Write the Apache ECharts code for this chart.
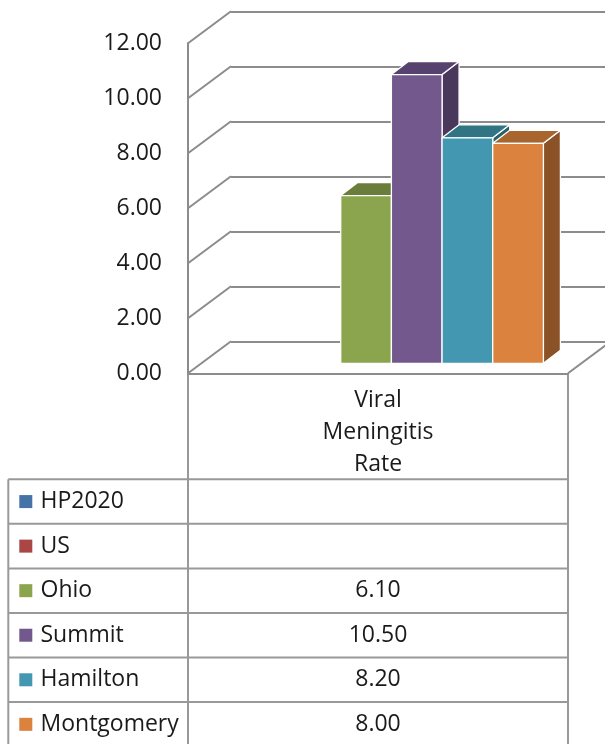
<!DOCTYPE html>
<html>
<head>
<meta charset="utf-8">
<script src="https://cdn.jsdelivr.net/npm/echarts@6/dist/echarts.min.js"></script>
<style>
  html, body { margin: 0; padding: 0; background: #fff; }
  #chart { width: 605px; height: 744px; }
</style>
</head>
<body>
<div id="chart"></div>
<script>
// ---- data ----
const categories = ['Viral Meningitis Rate'];
const seriesNames = ['HP2020', 'US', 'Ohio', 'Summit', 'Hamilton', 'Montgomery'];
const rates = [null, null, 6.10, 10.50, 8.20, 8.00];
const yTickLabels = ['0.00', '2.00', '4.00', '6.00', '8.00', '10.00', '12.00'];
const yTickValues = [0, 2, 4, 6, 8, 10, 12];

// ---- styling ----
const frontColors = ['#4572A7', '#AA4643', '#8AA54E', '#73588D', '#4397B0', '#DA823E'];
const topColors   = ['#355a88', '#873734', '#6B7D3A', '#57416E', '#317585', '#A8652D'];
const sideColors  = ['#2c4a70', '#6e2c2a', '#56672f', '#4A385C', '#285f6c', '#8A5226'];
const FONT = 'Open Sans';
const FONT_SIZE = 23;
const TEXT = '#1a1a1a';
const WALL = '#8c8c8c';
const TABLE = '#999999';

// perspective offsets
const WALL_DX = 43, WALL_DY = -32;   // depth of the floor / side wall
const BAR_DX = 17, BAR_DY = -13;     // depth of each column

// plot frame (front plane)
const FRONT = { left: 188, top: 43.3, width: 380, height: 330 };
const BAR_SHIFT = { dx: 13.4, dy: -10 };

const chart = echarts.init(document.getElementById('chart'), null, { renderer: 'canvas' });

// data table drawn under the plot
function buildTable() {
  const els = [];
  const xL = 8.3, xM = FRONT.left, xR = FRONT.left + FRONT.width;
  const yFloor = FRONT.top + FRONT.height;
  const yRow0 = 479.3, rowH = 44.55;
  const yEnd = yRow0 + rowH * seriesNames.length;
  const line = (x1, y1, x2, y2) => ({
    type: 'line', silent: true,
    shape: { x1, y1, x2, y2 },
    style: { stroke: TABLE, lineWidth: 2 }
  });
  els.push(line(xM, yFloor, xM, yEnd));
  els.push(line(xR, yFloor, xR, yEnd));
  els.push(line(xL, yRow0, xL, yEnd));
  for (let r = 0; r <= seriesNames.length; r++) {
    const y = yRow0 + r * rowH;
    els.push(line(xL, y, xR, y));
  }
  seriesNames.forEach((name, i) => {
    const cy = yRow0 + rowH * (i + 0.5);
    els.push({
      type: 'rect', silent: true,
      shape: { x: 19.3, y: cy - 6.5, width: 13, height: 13 },
      style: { fill: frontColors[i] }
    });
    els.push({
      type: 'text', silent: true,
      style: {
        text: name, x: 40.5, y: cy, verticalAlign: 'middle', align: 'left',
        font: FONT_SIZE + 'px "' + FONT + '"', fill: TEXT
      }
    });
    if (rates[i] != null) {
      els.push({
        type: 'text', silent: true,
        style: {
          text: rates[i].toFixed(2), x: (xM + xR) / 2, y: cy,
          verticalAlign: 'middle', align: 'center',
          font: FONT_SIZE + 'px "' + FONT + '"', fill: TEXT
        }
      });
    }
  });
  return els;
}

const option = {
  animation: false,
  backgroundColor: '#ffffff',
  grid: [
    // back wall
    { left: FRONT.left + WALL_DX, top: FRONT.top + WALL_DY, width: 500, height: FRONT.height },
    // front plane (axis labels, floor edge)
    { left: FRONT.left, top: FRONT.top, width: FRONT.width, height: FRONT.height },
    // plane of the columns
    { left: FRONT.left + BAR_SHIFT.dx, top: FRONT.top + BAR_SHIFT.dy, width: FRONT.width, height: FRONT.height }
  ],
  xAxis: [
    { gridIndex: 0, type: 'value', min: 0, max: 1, show: false },
    {
      gridIndex: 1, type: 'category', data: categories,
      axisLine: { show: true, lineStyle: { color: WALL, width: 2 } },
      axisTick: { show: false },
      axisLabel: {
        color: TEXT, fontFamily: FONT, fontSize: FONT_SIZE, lineHeight: 32, margin: 11,
        formatter: (v) => v.split(' ').join('\n')
      }
    },
    { gridIndex: 2, type: 'category', data: categories, show: false }
  ],
  yAxis: [
    {
      gridIndex: 0, type: 'value', min: 0, max: 12, interval: 2,
      axisLine: { show: false }, axisTick: { show: false }, axisLabel: { show: false },
      splitLine: { show: true, lineStyle: { color: WALL, width: 2 } }
    },
    {
      gridIndex: 1, type: 'value', min: 0, max: 12, interval: 2,
      axisLine: { show: true, lineStyle: { color: WALL, width: 2 } },
      axisTick: { show: false },
      splitLine: { show: false },
      axisLabel: {
        color: TEXT, fontFamily: FONT, fontSize: FONT_SIZE, margin: 26,
        padding: [5, 0, 0, 0],
        formatter: (v) => yTickLabels[yTickValues.indexOf(v)]
      }
    },
    { gridIndex: 2, type: 'value', min: 0, max: 12, interval: 2, show: false }
  ],
  series: [
    {
      // receding side-wall lines at each tick, plus the right floor edge
      type: 'custom', xAxisIndex: 1, yAxisIndex: 1, silent: true, z: 1,
      data: yTickValues.map((v) => [0, v]),
      renderItem: (params, api) => {
        const cs = params.coordSys;
        const y = api.coord([0, api.value(1)])[1];
        const style = { stroke: WALL, lineWidth: 2, fill: null };
        const children = [{
          type: 'line', shape: { x1: cs.x, y1: y, x2: cs.x + WALL_DX, y2: y + WALL_DY }, style
        }];
        if (api.value(1) === 0) {
          children.push({
            type: 'line',
            shape: { x1: cs.x + cs.width, y1: y, x2: cs.x + cs.width + WALL_DX, y2: y + WALL_DY },
            style
          });
        }
        return { type: 'group', children };
      }
    },
    {
      // 3D columns: side, top and front faces
      type: 'custom', xAxisIndex: 2, yAxisIndex: 2, silent: true, z: 5,
      data: rates.map((v, i) => [0, v, i]).filter((d) => d[1] != null),
      encode: { x: 0, y: 1 },
      renderItem: (params, api) => {
        const i = api.value(2);
        const v = api.value(1);
        const base = api.coord([0, 0]);
        const top = api.coord([0, v]);
        const catW = api.size([1, 0])[0];
        const groupW = catW * 0.8;
        const slotW = groupW / seriesNames.length;
        const x0 = base[0] - groupW / 2 + i * slotW;
        const x1 = x0 + slotW;
        const y0 = top[1], y1 = base[1];
        const edge = { stroke: '#ffffff', lineWidth: 1.3, lineJoin: 'round' };
        return {
          type: 'group',
          children: [
            {
              type: 'polygon',
              shape: { points: [[x1, y0], [x1 + BAR_DX, y0 + BAR_DY], [x1 + BAR_DX, y1 + BAR_DY], [x1, y1]] },
              style: Object.assign({ fill: sideColors[i] }, edge)
            },
            {
              type: 'polygon',
              shape: { points: [[x0, y0], [x1, y0], [x1 + BAR_DX, y0 + BAR_DY], [x0 + BAR_DX, y0 + BAR_DY]] },
              style: Object.assign({ fill: topColors[i] }, edge)
            },
            {
              type: 'rect',
              shape: { x: x0, y: y0, width: x1 - x0, height: y1 - y0 },
              style: Object.assign({ fill: frontColors[i] }, edge)
            }
          ]
        };
      }
    }
  ],
  graphic: buildTable()
};

chart.setOption(option);
</script>
</body>
</html>
